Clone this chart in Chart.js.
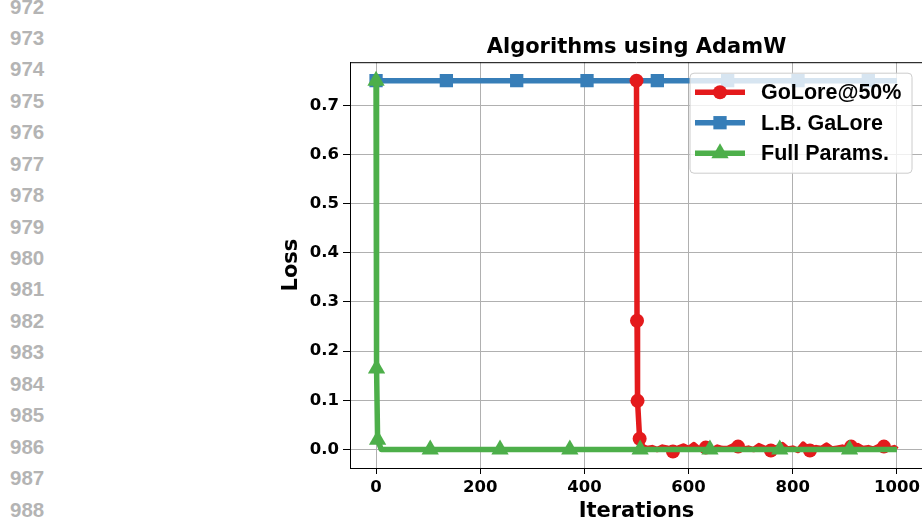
<!DOCTYPE html>
<html>
<head>
<meta charset="utf-8">
<title>Algorithms using AdamW</title>
<script src="https://cdn.jsdelivr.net/npm/chart.js@4.4.1/dist/chart.umd.min.js"></script>
<style>
    html, body { margin: 0; padding: 0; background: #fff; overflow: hidden; }
    body { width: 922px; height: 529px; position: relative; }
    .line-num { position: absolute; left: 10px; font: bold 20.5px "Liberation Sans", Arial, sans-serif; color: #b4b4b4; line-height: 1; }
    #lossChart { position: absolute; left: 0; top: 0; }
</style>
</head>
<body>
<div id="lineNums"></div>
<canvas id="lossChart" width="940" height="529"></canvas>
<script>
// === DATA ===
const lineNumbers = [972, 973, 974, 975, 976, 977, 978, 979, 980, 981, 982, 983, 984, 985, 986, 987, 988];

const xTicks = [0, 200, 400, 600, 800, 1000];
const yTicks = [0, 0.1, 0.2, 0.3, 0.4, 0.5, 0.6, 0.7];

// GoLore@50% (starts at iteration 500)
const goloreIters = [500, 501, 502, 506, 512, 520, 530, 540, 550, 560, 570, 580, 590, 600, 610, 620, 633,
    645, 655, 665, 675, 685, 695, 705, 715, 725, 735, 745, 758, 770, 780, 790, 800, 810, 820, 833,
    845, 855, 865, 875, 885, 895, 905, 912, 925, 935, 945, 955, 965, 975, 985, 995, 1000];
const goloreLoss = [0.75, 0.262, 0.099, 0.022, 0.006, 0.002, 0.004, 0.000, 0.005, 0.003, -0.004, 0.003, 0.007,
    0.002, 0.010, 0.001, 0.004, -0.001, 0.005, 0.002, 0.002, 0.007, 0.006, 0.001, 0.003, 0.000, 0.008,
    0.003, -0.002, 0.004, 0.010, 0.001, 0.003, -0.002, 0.011, -0.002, 0.004, 0.002, 0.009, 0.001, 0.003,
    0.005, 0.002, 0.006, 0.008, 0.002, 0.004, 0.001, 0.006, 0.006, 0.001, 0.004, 0.000];
const goloreMarks = [500, 501, 502, 506, 570, 633, 695, 758, 833, 912, 975];

// L.B. GaLore
const lbIters = [0, 135, 270, 405, 540, 675, 810, 945, 1000];
const lbLoss = [0.75, 0.75, 0.75, 0.75, 0.75, 0.75, 0.75, 0.75, 0.75];
const lbMarks = [0, 135, 270, 405, 540, 675, 810, 945];

// Full Params.
const fullIters = [0, 1, 3, 10, 104, 238, 372, 507, 641, 775, 909, 1000];
const fullLoss = [0.75, 0.165, 0.02, 0, 0, 0, 0, 0, 0, 0, 0, 0];
const fullMarks = [0, 1, 3, 104, 238, 372, 507, 641, 775, 909];

// === PAGE ===
const lineNumBox = document.getElementById('lineNums');
lineNumbers.forEach((n, i) => {
    const d = document.createElement('div');
    d.className = 'line-num';
    d.style.top = (-3.5 + i * 31.44) + 'px';
    d.textContent = n;
    lineNumBox.appendChild(d);
});

function toPoints(iters, loss) {
    return iters.map((x, i) => ({ x: x, y: loss[i] }));
}

function markRadius(iters, marks, r) {
    return iters.map(x => marks.includes(x) ? r : 0);
}

const series = [
    { label: 'GoLore@50%', color: '#e41a1c', style: 'circle', radius: 7, iters: goloreIters, loss: goloreLoss, marks: goloreMarks, order: 1 },
    { label: 'L.B. GaLore', color: '#377eb8', style: 'rect', radius: 9.4, iters: lbIters, loss: lbLoss, marks: lbMarks, order: 2 },
    { label: 'Full Params.', color: '#4daf4a', style: 'triangle', radius: 10, iters: fullIters, loss: fullLoss, marks: fullMarks, order: 0 }
];

const LINE_W = 5.5;
const tickFont = { family: 'DejaVu Sans', size: 16.5, weight: 'bold' };
const labelFont = { family: 'DejaVu Sans', size: 21, weight: 'bold' };

// top/right spines
const framePlugin = {
    id: 'frame',
    afterDatasetsDraw(chart) {
        const { ctx, chartArea: a } = chart;
        ctx.save();
        ctx.strokeStyle = '#000';
        ctx.lineWidth = 1;
        ctx.beginPath();
        ctx.moveTo(a.left, a.top + 0.5);
        ctx.lineTo(a.right, a.top + 0.5);
        ctx.lineTo(a.right, a.bottom);
        ctx.stroke();
        ctx.restore();
    }
};

// matplotlib-like legend in the upper right
const boxLegend = {
    id: 'boxLegend',
    afterDraw(chart) {
        const { ctx, chartArea: a } = chart;
        const w = 222, h = 100;
        const x0 = a.right - 11 - w, y0 = a.top + 11;
        ctx.save();
        ctx.beginPath();
        ctx.roundRect(x0, y0, w, h, 4);
        ctx.fillStyle = 'rgba(255,255,255,0.8)';
        ctx.fill();
        ctx.strokeStyle = '#cccccc';
        ctx.lineWidth = 1;
        ctx.stroke();

        series.forEach((s, i) => {
            const cy = y0 + 19 + i * 30.5;
            ctx.strokeStyle = s.color;
            ctx.fillStyle = s.color;
            ctx.lineWidth = LINE_W;
            ctx.beginPath();
            ctx.moveTo(x0 + 5, cy);
            ctx.lineTo(x0 + 55, cy);
            ctx.stroke();
            Chart.helpers.drawPoint(ctx, { pointStyle: s.style, radius: s.radius, rotation: 0, borderWidth: 0 }, x0 + 30, cy);
            ctx.fillStyle = '#000';
            ctx.font = 'bold 21.5px "Liberation Sans", Arial, sans-serif';
            ctx.textBaseline = 'middle';
            ctx.textAlign = 'left';
            ctx.fillText(s.label, x0 + 71, cy + 1);
        });
        ctx.restore();
    }
};

new Chart(document.getElementById('lossChart'), {
    type: 'line',
    data: {
        datasets: series.map(s => ({
            label: s.label,
            data: toPoints(s.iters, s.loss),
            borderColor: s.color,
            backgroundColor: s.color,
            borderWidth: LINE_W,
            pointStyle: s.style,
            pointRadius: markRadius(s.iters, s.marks, s.radius),
            pointBorderWidth: 0,
            pointBackgroundColor: s.color,
            tension: 0,
            borderJoinStyle: 'round',
            fill: false,
            order: s.order
        }))
    },
    options: {
        responsive: false,
        animation: false,
        events: [],
        layout: { padding: { left: 275, right: 17, top: 0, bottom: 0 } },
        scales: {
            x: {
                type: 'linear',
                min: -50,
                max: 1050,
                afterBuildTicks: scale => { scale.ticks = xTicks.map(v => ({ value: v })); },
                afterFit: scale => { scale.height = 61; },
                ticks: {
                    color: '#000',
                    font: tickFont,
                    padding: 4,
                    maxRotation: 0,
                    callback: v => String(v)
                },
                grid: { color: '#b0b0b0', lineWidth: 1, tickLength: 6, tickColor: '#000', tickWidth: 1 },
                border: { color: '#000', width: 1 },
                title: { display: true, text: 'Iterations', color: '#000', font: labelFont, padding: { top: 4, bottom: 5 } }
            },
            y: {
                type: 'linear',
                min: -0.0375,
                max: 0.7875,
                afterBuildTicks: scale => { scale.ticks = yTicks.map(v => ({ value: v })); },
                afterFit: scale => { scale.width = 75; },
                ticks: {
                    color: '#000',
                    font: tickFont,
                    padding: 4,
                    callback: v => v.toFixed(1)
                },
                grid: { color: '#b0b0b0', lineWidth: 1, tickLength: 7, tickColor: '#000', tickWidth: 1 },
                border: { color: '#000', width: 1 },
                title: { display: true, text: 'Loss', color: '#000', font: labelFont, padding: { top: 4, bottom: 4 } }
            }
        },
        plugins: {
            legend: { display: false },
            tooltip: { enabled: false },
            title: {
                display: true,
                text: 'Algorithms using AdamW',
                color: '#000',
                fullSize: false,
                font: labelFont,
                padding: { top: 35, bottom: 2 }
            }
        }
    },
    plugins: [framePlugin, boxLegend]
});
</script>
</body>
</html>
